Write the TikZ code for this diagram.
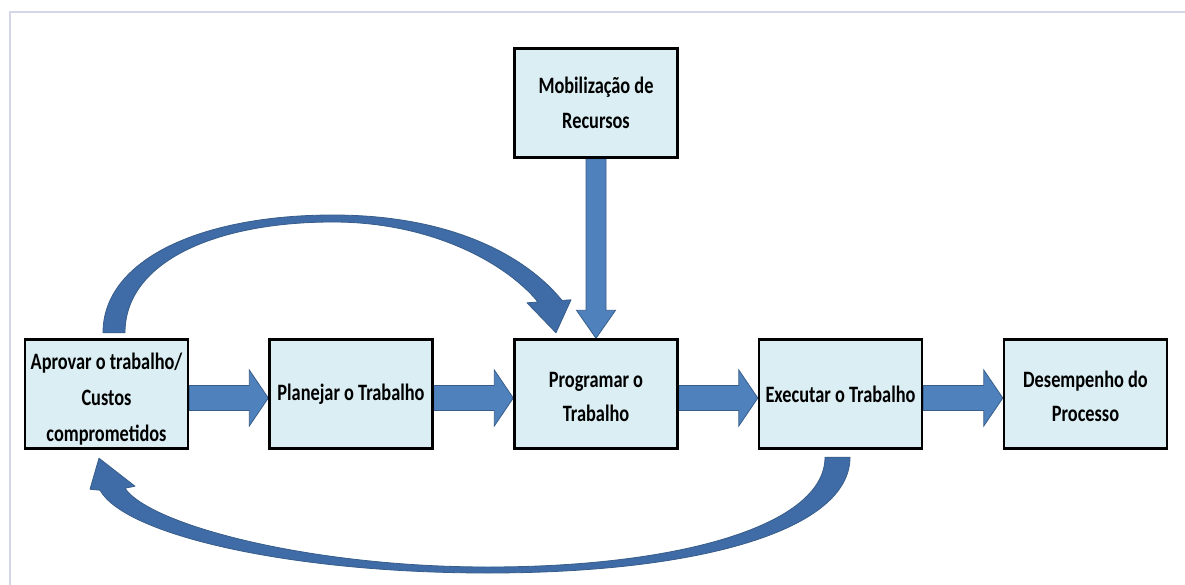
\documentclass[tikz,border=0pt]{standalone}
\usepackage{fontspec}
\newfontfamily\boxfont{Carlito}[FakeStretch=0.78]
\usetikzlibrary{calc}
\definecolor{boxfill}{HTML}{DAEEF3}
\definecolor{arrfill}{HTML}{4F81BD}
\definecolor{arrline}{HTML}{385D8A}
\definecolor{curvefill}{HTML}{3F6BA6}
\definecolor{framecol}{HTML}{D3D7E8}
\pgfdeclarelayer{bg}
\pgfsetlayers{bg,main}
\tikzset{
  procbox/.style={draw=black, line width=2.4pt, fill=boxfill, minimum width=163pt,
    minimum height=109pt, align=center, inner sep=0pt,
    font=\boxfont\bfseries\fontsize{23.5}{34.5}\selectfont},
  blockarrow/.style={fill=arrfill, draw=arrline, line width=0.8pt, line join=miter},
  curvearrow/.style={fill=curvefill, draw=arrline, line width=0.8pt, line join=round},
  framestyle/.style={draw=framecol, line width=1.6pt}
}
\begin{document}
\begin{tikzpicture}[x=1pt, y=-1pt]
\useasboundingbox (0,0) rectangle (1185,585);
\draw[framestyle] (10,585) -- (10,12) -- (1185,12);

\node[procbox, font=\boxfont\bfseries\fontsize{23.5}{36}\selectfont] (a) at (106.5,394)
  {\rule{0pt}{27pt}Aprovar o trabalho/\\Custos\\comprometidos};
\node[procbox] (b) at (351,394) {Planejar o Trabalho};
\node[procbox] (c) at (596,394) {\rule{0pt}{21pt}Programar o\\Trabalho};
\node[procbox] (d) at (840.5,394) {Executar o Trabalho};
\node[procbox] (e) at (1085.5,394) {\rule{0pt}{21pt}Desempenho do\\Processo};
\node[procbox] (m) at (596,103) {Mobilização de\\Recursos};

\begin{pgfonlayer}{bg}
% straight block arrows
\foreach \s/\t in {a/b,b/c,c/d,d/e}{
  \path[blockarrow] ($(\s.east)+(0,-8.5)$) -- ($(\t.west)+(-19,-8.5)$)
    -- ($(\t.west)+(-19,-24)$) -- ($(\t.west)+(0,4)$) -- ($(\t.west)+(-19,32)$)
    -- ($(\t.west)+(-19,16.5)$) -- ($(\s.east)+(0,16.5)$) -- cycle;
}
% vertical arrow
\path[blockarrow] ($(m.south)+(-10,0)$) -- ($(c.north)+(-10,-28)$)
  -- ($(c.north)+(-19.5,-28)$) -- (c.north) -- ($(c.north)+(19.5,-28)$)
  -- ($(c.north)+(10,-28)$) -- ($(m.south)+(10,0)$) -- cycle;
\end{pgfonlayer}

% curved arrow over the top: a -> c
\coordinate (t1o) at ($(a.north)+(-3.5,-5.5)$);
\coordinate (t1i) at ($(a.north)+(18.5,-5.5)$);
\coordinate (tip1) at ($(c.north)+(-40,-5.5)$);
\path[curvearrow] (t1o) .. controls (103,260) and (200,215) .. (333,215)
  .. controls (450,215) and (525,255) .. ($(tip1)+(6,-32.4)$)
  -- ($(tip1)+(15,-33)$) -- (tip1) -- ($(tip1)+(-29,-30)$)
  -- ($(tip1)+(-18,-30.8)$)
  .. controls (505,262) and (430,222) .. (333,222)
  .. controls (215,222) and (125,262) .. (t1i) -- cycle;

% curved arrow underneath: d -> a
\coordinate (t2o) at ($(d.south)+(9.5,7.5)$);
\coordinate (t2i) at ($(d.south)+(-15.5,7.5)$);
\coordinate (tip2) at ($(a.south)+(-7.5,8.5)$);
\path[curvearrow] (t2o) .. controls (850,530) and (700,573) .. (488,573)
  .. controls (290,573) and (125,535) .. ($(tip2)+(1,32)$)
  -- ($(tip2)+(-9,31)$) -- (tip2) -- ($(tip2)+(36,28)$)
  -- ($(tip2)+(26,30)$)
  .. controls (150,525) and (310,567) .. (488,567)
  .. controls (680,567) and (825,525) .. (t2i) -- cycle;
\end{tikzpicture}
\end{document}
